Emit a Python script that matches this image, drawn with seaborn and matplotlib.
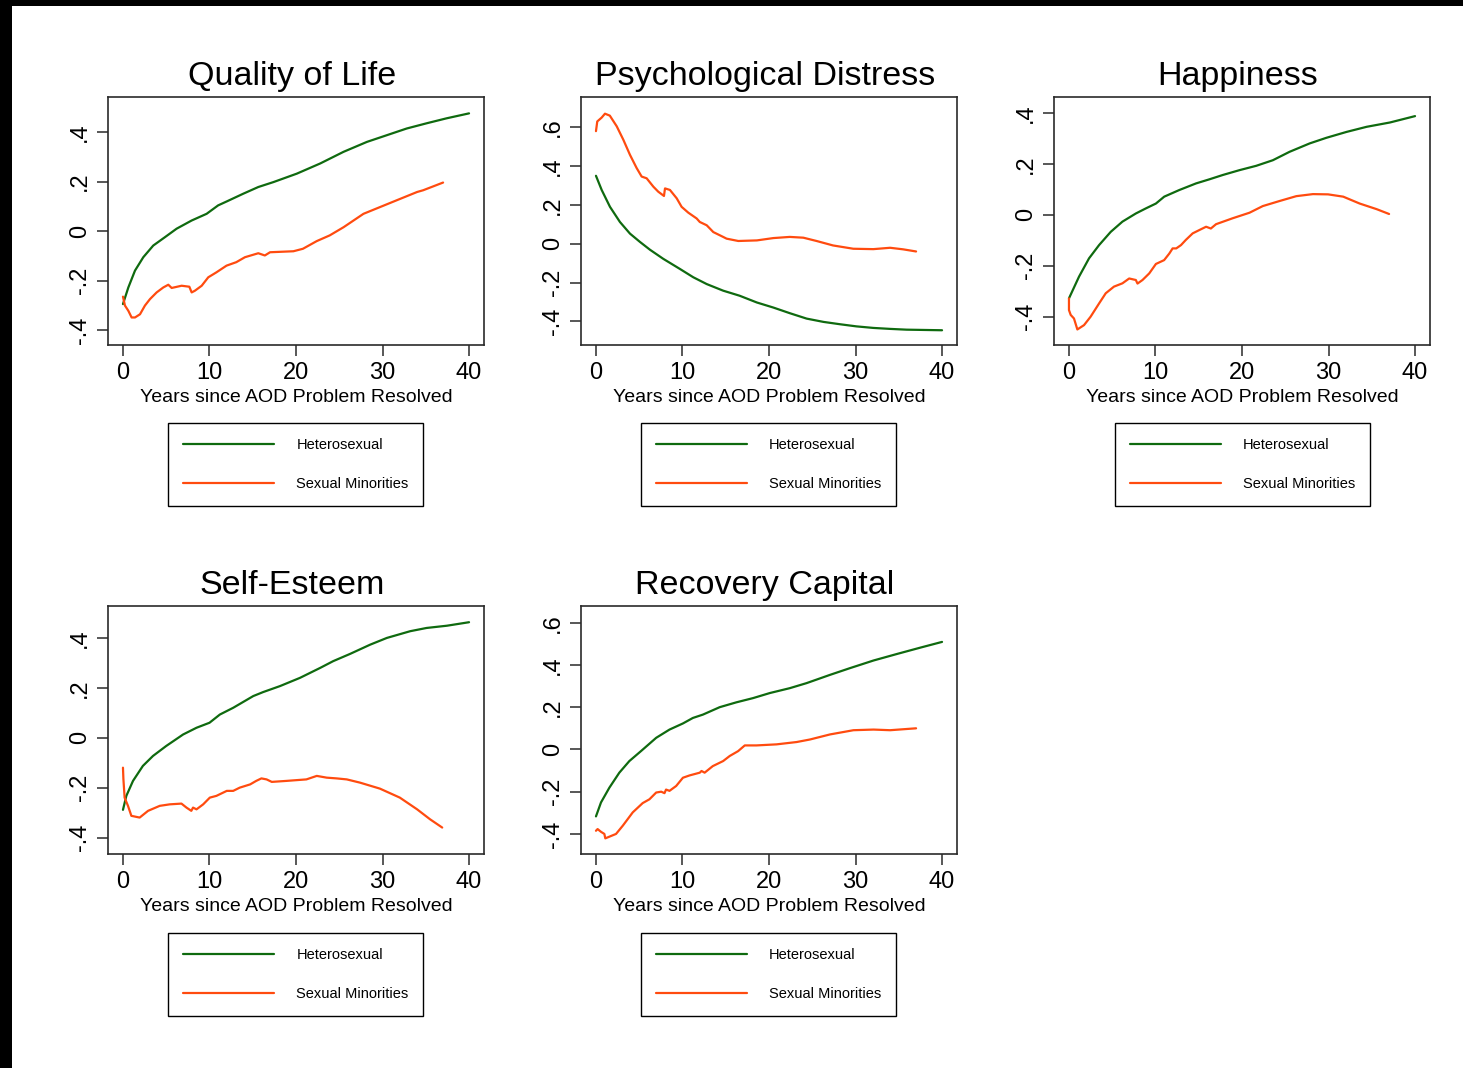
import matplotlib
matplotlib.use("Agg")
import matplotlib.pyplot as plt
from matplotlib.patches import Rectangle
import seaborn as sns
import pandas as pd

# ---------------- data ----------------
groups = ["Heterosexual", "Sexual Minorities"]
titles = ["Quality of Life", "Psychological Distress", "Happiness",
          "Self-Esteem", "Recovery Capital"]
xlabel = "Years since AOD Problem Resolved"
xticks = [0, 10, 20, 30, 40]

# Quality of Life
qol_het_x = [0, 0.62, 1.39, 2.35, 3.5, 4.86, 6.2, 7.94, 9.67, 11.0, 12.0, 13.9, 15.64,
             17.4, 20.1, 22.8, 25.5, 28.2, 30.5, 32.8, 35.1, 37.4, 40]
qol_het_y = [-0.294, -0.227, -0.159, -0.105, -0.058, -0.024, 0.01, 0.043, 0.07, 0.104,
             0.12, 0.151, 0.178, 0.198, 0.232, 0.273, 0.32, 0.36, 0.387, 0.414, 0.435,
             0.455, 0.475]
qol_min_x = [0, 0.23, 0.62, 1.0, 1.39, 1.97, 2.54, 3.12, 3.89, 4.66, 5.24, 5.63, 6.78,
             7.67, 7.94, 8.32, 9.1, 9.86, 10.8, 11.97, 13.1, 14.1, 15.64, 16.4, 17.0, 19.7,
             20.8, 22.4, 23.9, 25.5, 27.8, 29.7, 31.6, 34.0, 34.7, 37.0]
qol_min_y = [-0.264, -0.30, -0.321, -0.348, -0.348, -0.335, -0.30, -0.274, -0.247, -0.227,
             -0.216, -0.229, -0.22, -0.224, -0.247, -0.24, -0.22, -0.186, -0.166, -0.139,
             -0.125, -0.105, -0.089, -0.098, -0.085, -0.081, -0.071, -0.04, -0.017, 0.016,
             0.07, 0.097, 0.124, 0.158, 0.165, 0.196]

# Psychological Distress
pd_het_x = [0, 0.66, 1.62, 2.77, 3.93, 5.09, 6.24, 7.78, 9.7, 11.25, 12.8, 14.7, 16.6,
            18.6, 20.5, 22.4, 24.35, 26.3, 28.2, 30.1, 32.06, 34.0, 35.9, 40]
pd_het_y = [0.35, 0.277, 0.19, 0.112, 0.052, 0.009, -0.031, -0.078, -0.13, -0.173, -0.208,
            -0.242, -0.268, -0.303, -0.329, -0.358, -0.386, -0.403, -0.415, -0.426, -0.434,
            -0.439, -0.443, -0.446]
pd_min_x = [0, 0.15, 0.66, 1.04, 1.6, 2.4, 3.16, 3.93, 4.7, 5.28, 5.86, 6.63, 7.2, 7.86,
            7.98, 8.55, 9.33, 9.9, 10.67, 11.64, 12.0, 12.8, 13.56, 14.7, 15.1, 16.45, 18.6,
            20.5, 22.4, 23.97, 25.5, 27.4, 29.75, 32.06, 34.0, 35.5, 37.0]
pd_min_y = [0.58, 0.63, 0.65, 0.67, 0.66, 0.605, 0.536, 0.458, 0.39, 0.346, 0.337, 0.294,
            0.268, 0.246, 0.285, 0.277, 0.234, 0.19, 0.16, 0.13, 0.112, 0.095, 0.06, 0.035,
            0.026, 0.014, 0.017, 0.029, 0.035, 0.031, 0.014, -0.009, -0.026, -0.028, -0.021,
            -0.029, -0.04]

# Happiness
hap_het_x = [0, 1.16, 2.32, 3.48, 4.83, 6.18, 7.73, 8.89, 10.05, 11.01, 12.75, 14.69,
             16.23, 17.78, 19.71, 21.64, 23.57, 25.5, 27.83, 29.76, 32.08, 34.4, 37.1, 40]
hap_het_y = [-0.328, -0.243, -0.171, -0.119, -0.067, -0.027, 0.005, 0.025, 0.044, 0.071,
             0.097, 0.123, 0.139, 0.156, 0.175, 0.192, 0.214, 0.247, 0.28, 0.302, 0.325,
             0.345, 0.362, 0.387]
hap_min_x = [0, 0.0, 0.2, 0.58, 0.97, 1.74, 2.5, 3.48, 4.25, 5.2, 6.18, 6.96, 7.73, 7.92,
             8.5, 9.28, 10.05, 11.0, 11.6, 11.98, 12.4, 12.95, 13.5, 14.3, 15.07, 15.85,
             16.4, 17.0, 18.9, 20.87, 22.4, 24.35, 26.28, 28.2, 29.95, 31.7, 33.6, 35.56, 37.0]
hap_min_y = [-0.328, -0.374, -0.393, -0.407, -0.45, -0.433, -0.4, -0.348, -0.308, -0.282,
             -0.269, -0.25, -0.256, -0.27, -0.256, -0.23, -0.193, -0.178, -0.152, -0.132,
             -0.132, -0.119, -0.099, -0.073, -0.06, -0.047, -0.054, -0.037, -0.014, 0.008,
             0.034, 0.054, 0.073, 0.081, 0.08, 0.071, 0.044, 0.022, 0.003]

# Self-Esteem
se_het_x = [0, 0.39, 1.16, 2.3, 3.47, 5.0, 6.95, 8.5, 10.0, 11.2, 12.74, 15.06, 16.2,
            18.15, 20.46, 22.8, 24.3, 26.25, 28.57, 30.5, 33.2, 35.1, 37.45, 40]
se_het_y = [-0.289, -0.233, -0.173, -0.113, -0.073, -0.033, 0.013, 0.04, 0.06, 0.093,
            0.12, 0.167, 0.183, 0.207, 0.24, 0.28, 0.307, 0.336, 0.373, 0.4, 0.427, 0.44,
            0.449, 0.463]
se_min_x = [0, 0.05, 0.19, 0.58, 0.97, 1.93, 2.9, 4.25, 5.4, 6.76, 7.34, 7.9, 8.1, 8.5,
            9.27, 10.04, 10.8, 12.0, 12.74, 13.5, 14.7, 15.4, 16.0, 16.6, 17.2, 18.9, 21.2,
            22.4, 23.55, 24.7, 25.87, 27.4, 29.7, 32.0, 34.0, 35.5, 36.9]
se_min_y = [-0.12, -0.165, -0.24, -0.273, -0.313, -0.32, -0.293, -0.273, -0.267, -0.264,
            -0.28, -0.293, -0.28, -0.287, -0.267, -0.24, -0.233, -0.213, -0.213, -0.2,
            -0.187, -0.173, -0.163, -0.167, -0.177, -0.173, -0.167, -0.153, -0.16, -0.163,
            -0.167, -0.18, -0.204, -0.24, -0.287, -0.327, -0.36]

# Recovery Capital
rc_het_x = [0, 0.58, 1.55, 2.7, 3.86, 5.2, 6.96, 8.5, 10.05, 11.2, 12.37, 14.3, 16.23,
            18.16, 20.1, 22.4, 24.35, 27.05, 29.37, 32.08, 34.8, 37.5, 40]
rc_het_y = [-0.317, -0.251, -0.181, -0.11, -0.055, -0.008, 0.055, 0.094, 0.123, 0.149,
            0.165, 0.2, 0.223, 0.243, 0.267, 0.29, 0.314, 0.353, 0.385, 0.421, 0.452, 0.482,
            0.509]
rc_min_x = [0, 0.19, 0.58, 0.97, 1.08, 1.55, 2.32, 3.1, 4.25, 5.4, 6.18, 6.96, 7.54, 7.92,
            8.1, 8.5, 9.27, 10.05, 10.82, 12.0, 12.2, 12.56, 13.5, 14.7, 15.46, 16.43, 17.2,
            18.55, 20.87, 23.19, 24.73, 27.05, 29.76, 32.08, 34.0, 37.0]
rc_min_y = [-0.385, -0.377, -0.39, -0.40, -0.421, -0.413, -0.40, -0.361, -0.298, -0.254,
            -0.236, -0.204, -0.2, -0.207, -0.19, -0.196, -0.173, -0.134, -0.123, -0.11,
            -0.102, -0.11, -0.079, -0.055, -0.031, -0.008, 0.019, 0.019, 0.024, 0.035,
            0.047, 0.071, 0.091, 0.094, 0.091, 0.1]

series = [
    (qol_het_x, qol_het_y, qol_min_x, qol_min_y),
    (pd_het_x, pd_het_y, pd_min_x, pd_min_y),
    (hap_het_x, hap_het_y, hap_min_x, hap_min_y),
    (se_het_x, se_het_y, se_min_x, se_min_y),
    (rc_het_x, rc_het_y, rc_min_x, rc_min_y),
]
yticks = [
    [-0.4, -0.2, 0, 0.2, 0.4],
    [-0.4, -0.2, 0, 0.2, 0.4, 0.6],
    [-0.4, -0.2, 0, 0.2, 0.4],
    [-0.4, -0.2, 0, 0.2, 0.4],
    [-0.4, -0.2, 0, 0.2, 0.4, 0.6],
]
ylims = [(-0.459, 0.541), (-0.522, 0.756), (-0.511, 0.462), (-0.466, 0.528), (-0.495, 0.679)]

def fmt(v):
    if v == 0:
        return "0"
    s = f"{v:.1f}"
    return s.replace("0.", ".")

# ---------------- style ----------------
sns.set_style("white")
plt.rcParams['font.family'] = ['Liberation Sans', 'DejaVu Sans']
plt.rcParams['text.color'] = 'black'
plt.rcParams['axes.labelcolor'] = 'black'
plt.rcParams['xtick.color'] = 'black'
plt.rcParams['ytick.color'] = 'black'
palette = {"Heterosexual": "#0f6a0f", "Sexual Minorities": "#ff4b0f"}
edge = "#2a2a2a"

W, H = 1463, 1068
fig = plt.figure(figsize=(W / 100, H / 100), dpi=100)
fig.patch.set_facecolor("white")

# axes boxes in pixels (left, top)
boxes = [(108, 97), (581, 97), (1054, 97), (108, 606), (581, 606)]
bw, bh = 376, 248
leg_centers = [(295.5, 464.5), (768.5, 464.5), (1242.5, 464.5), (295.5, 974.5), (768.5, 974.5)]

for i, (title, (hx, hy, mx, my)) in enumerate(zip(titles, series)):
    l, t = boxes[i]
    ax = fig.add_axes([l / W, 1 - (t + bh) / H, bw / W, bh / H])
    df = pd.concat([
        pd.DataFrame({"x": hx, "y": hy, "group": groups[0]}),
        pd.DataFrame({"x": mx, "y": my, "group": groups[1]}),
    ], ignore_index=True)
    sns.lineplot(data=df, x="x", y="y", hue="group", palette=palette,
                 estimator=None, sort=False, linewidth=1.6, ax=ax, legend=False)
    ax.set_xlim(-1.73, 41.73)
    ax.set_ylim(*ylims[i])
    ax.set_xticks(xticks)
    ax.set_xticklabels([str(v) for v in xticks])
    ax.set_yticks(yticks[i])
    ax.set_yticklabels([fmt(v) for v in yticks[i]], rotation=90, va="center")
    ax.tick_params(axis="both", which="major", length=8, width=1.1, color=edge,
                   labelsize=17, pad=4, direction="out", bottom=True, left=True,
                   labelcolor="black")
    for sp in ax.spines.values():
        sp.set_color(edge)
        sp.set_linewidth(1.2)
    ax.set_title(title, fontsize=24.5, pad=8.5, color="black", x=0.5 - 4 / bw)
    ax.set_xlabel(xlabel, fontsize=14, labelpad=4, color="black")
    ax.set_ylabel("")

    handles = [plt.Line2D([], [], color=palette[g], linewidth=1.6) for g in groups]
    cx, cy = leg_centers[i]
    leg = ax.legend(handles, groups, loc="center", bbox_to_anchor=(cx / W, 1 - cy / H),
                    bbox_transform=fig.transFigure, fontsize=10.5, frameon=True,
                    fancybox=False, shadow=False, framealpha=1, edgecolor="black",
                    handlelength=6.3, handletextpad=1.5, labelspacing=1.75, borderpad=1.0,
                    borderaxespad=0, labelcolor="black")
    leg.get_frame().set_linewidth(1.0)

# black frame strips (top and left edges of the original screenshot)
fig.add_artist(Rectangle((0, 1 - 6 / H), 1, 6 / H, transform=fig.transFigure,
                         facecolor="black", edgecolor="none"))
fig.add_artist(Rectangle((0, 0), 12 / W, 1, transform=fig.transFigure,
                         facecolor="black", edgecolor="none"))

fig.savefig("out.png", dpi=100, facecolor="white")
